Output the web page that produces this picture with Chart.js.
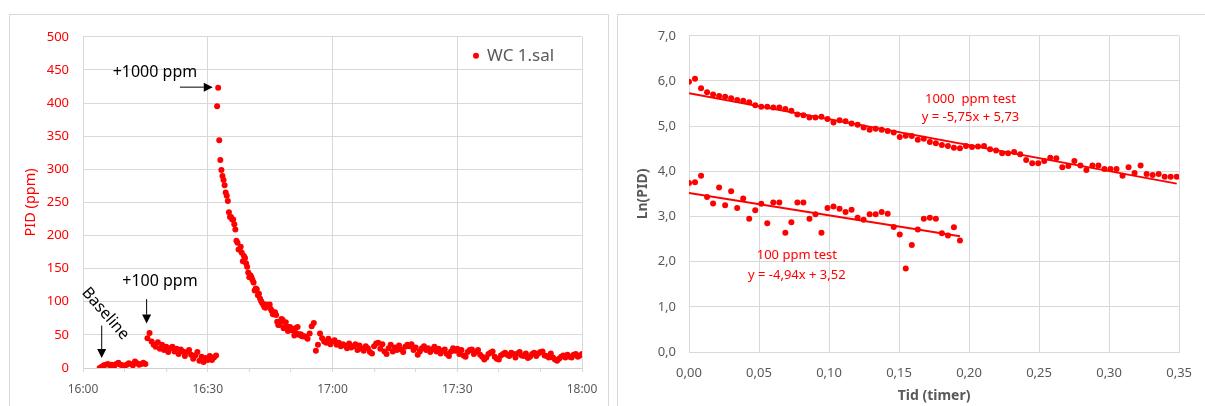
<!DOCTYPE html>
<html>
<head>
<meta charset="utf-8">
<script src="https://cdn.jsdelivr.net/npm/chart.js@4.4.1/dist/chart.umd.min.js"></script>
<style>
  html, body { margin: 0; padding: 0; background: #fff; overflow: hidden; }
  body { width: 1205px; height: 406px; position: relative; }
  .panel { position: absolute; top: 14px; height: 420px; border: 1px solid #d9d9d9; box-sizing: border-box; background: #fff; }
  #leftPanel { left: 9px; width: 600px; }
  #rightPanel { left: 617px; width: 620px; }
  canvas { position: absolute; left: 0; top: 0; }
</style>
</head>
<body>
<div class="panel" id="leftPanel"><canvas id="pidChart" width="598" height="391"></canvas></div>
<div class="panel" id="rightPanel"><canvas id="lnChart" width="587" height="391"></canvas></div>
<script>
"use strict";

// DATA -----------------------
// left chart: PID readings (ppm), x = minutes after 16:00
const segStartMin = [4, 15.5, 32.25, 53.5];
const segStepMin = [0.5, 0.5, 0.258, 0.5];

const pidBaseline = [0, 2, 4, 5, 6, 4, 5, 3, 6, 8, 5, 4, 3, 5, 7, 6, 4, 10, 7, 5, 6, 8, 6];

const pid100 = [
  45, 53, 40, 35, 32, 39, 29, 35, 27, 32,
  24, 30, 32, 25, 29, 21, 28, 25, 18, 24,
  27, 20, 14, 19, 24, 11, 17, 9, 15, 12,
  18, 12, 16, 19
];

const pid1000Decay = [
  395, 423, 344, 314, 299, 290, 284, 276, 265, 260,
  252, 235, 228, 228, 224, 224, 217, 209, 192, 189,
  179, 179, 183, 174, 161, 169, 166, 158, 153, 144,
  137, 140, 137, 133, 129, 117, 120, 119, 110, 112,
  105, 101, 98, 96, 92, 91, 96, 94, 95, 96,
  89, 86, 81, 81, 84, 80, 70, 65, 65, 69,
  74, 73, 60, 62, 69, 62, 56, 62, 62, 57,
  57, 57, 49, 60, 52, 62, 51, 50, 51, 48,
  48, 48
];

const pid1000Tail = [
  47, 44, 52, 63, 68, 26, 35, 52, 45, 40,
  38, 44, 36, 40, 42, 35, 38, 33, 36, 34,
  30, 37, 31, 33, 36, 27, 34, 29, 26, 33,
  30, 24, 22, 33, 37, 38, 29, 36, 25, 21,
  30, 35, 25, 31, 27, 34, 28, 24, 32, 35,
  33, 36, 27, 31, 20, 25, 30, 33, 27, 30,
  24, 28, 32, 25, 29, 22, 26, 28, 21, 18,
  25, 30, 26, 29, 21, 27, 19, 17, 24, 27,
  28, 21, 25, 27, 20, 17, 13, 16, 21, 23,
  25, 17, 14, 13, 19, 21, 23, 20, 18, 23,
  21, 16, 22, 24, 19, 18, 22, 15, 17, 21,
  23, 18, 22, 24, 25, 19, 18, 16, 22, 16,
  13, 11, 14, 17, 19, 16, 20, 17, 16, 20,
  21, 17, 19, 21
];

// right chart: ln(PID) against time in hours
const tidStepH = 0.0043;

const lnPid1000 = [
  5.98, 6.05, 5.84, 5.75, 5.70, 5.67, 5.65, 5.62, 5.58, 5.56,
  5.53, 5.46, 5.43, 5.43, 5.41, 5.41, 5.38, 5.34, 5.26, 5.24,
  5.19, 5.19, 5.21, 5.16, 5.08, 5.13, 5.11, 5.06, 5.03, 4.97,
  4.92, 4.94, 4.92, 4.89, 4.86, 4.76, 4.79, 4.78, 4.70, 4.72,
  4.65, 4.62, 4.58, 4.56, 4.52, 4.51, 4.56, 4.54, 4.55, 4.56,
  4.49, 4.46, 4.40, 4.40, 4.43, 4.38, 4.25, 4.18, 4.18, 4.23,
  4.30, 4.29, 4.09, 4.12, 4.23, 4.13, 4.03, 4.13, 4.13, 4.05,
  4.05, 4.05, 3.90, 4.09, 3.96, 4.13, 3.94, 3.92, 3.94, 3.88,
  3.88, 3.88
];

const lnPid100 = [
  3.74, 3.76, 3.90, 3.43, 3.29, 3.64, 3.25, 3.56, 3.19, 3.40,
  2.95, 3.14, 3.28, 2.85, 3.31, 3.31, 2.64, 2.87, 3.31, 3.31,
  2.95, 3.05, 2.64, 3.19, 3.22, 3.17, 3.10, 3.15, 2.97, 2.93,
  3.05, 3.05, 3.10, 3.06, 2.77, 2.60, 1.85, 2.37, 2.71, 2.95,
  2.97, 2.95, 2.63, 2.58, 2.76, 2.47
];

// trendlines: [slope, intercept]
const trend1000 = [-5.75, 5.73];
const trend100 = [-4.94, 3.52];

// STYLE -----------------------
const red = '#ff0000';
const grey = '#595959';
const gridGrey = '#d9d9d9';
Chart.defaults.font.family = "'Noto Sans', sans-serif";

// FUNCTIONS -----------------------
function clock(min){
  const h = 16 + Math.floor(min / 60);
  const m = min % 60;
  return h + ':' + (m < 10 ? '0' + m : m);
}

function comma(v, d){
  return v.toFixed(d).replace('.', ',');
}

function drawArrow(ctx, x1, y1, x2, y2){
  const a = Math.atan2(y2 - y1, x2 - x1);
  const len = 9, half = 4.5;
  const bx = x2 - len * Math.cos(a), by = y2 - len * Math.sin(a);
  ctx.beginPath();
  ctx.moveTo(x1, y1);
  ctx.lineTo(bx, by);
  ctx.stroke();
  ctx.beginPath();
  ctx.moveTo(x2, y2);
  ctx.lineTo(bx + half * Math.sin(a), by - half * Math.cos(a));
  ctx.lineTo(bx - half * Math.sin(a), by + half * Math.cos(a));
  ctx.closePath();
  ctx.fill();
}

function trendPoints(coef, xEnd){
  return [
    {x: 0, y: coef[1]},
    {x: xEnd, y: coef[0] * xEnd + coef[1]}
  ];
}

// build points
const pidPoints = [];
[pidBaseline, pid100, pid1000Decay, pid1000Tail].forEach(function(vals, s){
  vals.forEach(function(v, i){
    pidPoints.push({x: segStartMin[s] + i * segStepMin[s], y: v});
  });
});

const pts1000 = lnPid1000.map((v, i) => ({x: i * tidStepH, y: v}));
const pts100 = lnPid100.map((v, i) => ({x: i * tidStepH, y: v}));

// annotations (in data units)
const leftNotes = [
  {text: '+1000 ppm', x: 17.3, y: 446, angle: 0},
  {text: '+100 ppm', x: 18.5, y: 130, angle: 0},
  {text: 'Baseline', x: 5.4, y: 82, angle: 49}
];
const leftArrows = [
  [23.3, 424, 31.2, 424],
  [15.3, 104, 15.3, 67],
  [4.5, 64, 4.5, 15]
];
const rightNotes = [
  {text: '1000  ppm test', x: 0.201, y: 5.60},
  {text: 'y = -5,75x + 5,73', x: 0.201, y: 5.19},
  {text: '100 ppm test', x: 0.077, y: 2.13},
  {text: 'y = -4,94x + 3,52', x: 0.077, y: 1.69}
];

const leftExtras = {
  id: 'leftExtras',
  afterDatasetsDraw(chart){
    const ctx = chart.ctx, xs = chart.scales.x, ys = chart.scales.y, area = chart.chartArea;
    ctx.save();
    ctx.fillStyle = '#000';
    ctx.strokeStyle = '#000';
    ctx.lineWidth = 1;
    ctx.font = "16px 'Noto Sans', sans-serif";
    ctx.textAlign = 'center';
    ctx.textBaseline = 'middle';
    leftNotes.forEach(function(n){
      ctx.save();
      ctx.translate(xs.getPixelForValue(n.x), ys.getPixelForValue(n.y));
      ctx.rotate(n.angle * Math.PI / 180);
      ctx.fillText(n.text, 0, 0);
      ctx.restore();
    });
    leftArrows.forEach(function(a){
      drawArrow(ctx, xs.getPixelForValue(a[0]), ys.getPixelForValue(a[1]),
        xs.getPixelForValue(a[2]), ys.getPixelForValue(a[3]));
    });
    // legend
    const lx = area.right - 106, ly = area.top + 19;
    ctx.fillStyle = red;
    ctx.beginPath();
    ctx.arc(lx, ly, 3, 0, Math.PI * 2);
    ctx.fill();
    ctx.fillStyle = grey;
    ctx.textAlign = 'left';
    ctx.font = "17px 'Noto Sans', sans-serif";
    ctx.fillText(chart.data.datasets[0].label, lx + 11, ly);
    ctx.restore();
  }
};

const rightExtras = {
  id: 'rightExtras',
  afterDatasetsDraw(chart){
    const ctx = chart.ctx, xs = chart.scales.x, ys = chart.scales.y;
    ctx.save();
    ctx.fillStyle = red;
    ctx.font = "13px 'Noto Sans', sans-serif";
    ctx.textAlign = 'center';
    ctx.textBaseline = 'middle';
    rightNotes.forEach(function(n){
      ctx.fillText(n.text, xs.getPixelForValue(n.x), ys.getPixelForValue(n.y));
    });
    ctx.restore();
  }
};

// CHARTS -----------------------
new Chart(document.getElementById('pidChart'), {
  type: 'scatter',
  data: {
    datasets: [{
      label: 'WC 1.sal',
      data: pidPoints,
      backgroundColor: red,
      borderWidth: 0,
      pointRadius: 3
    }]
  },
  options: {
    responsive: false,
    animation: false,
    events: [],
    layout: { padding: { top: 18, right: 26, left: 0, bottom: 0 } },
    plugins: { legend: { display: false }, tooltip: { enabled: false } },
    scales: {
      x: {
        type: 'linear', min: 0, max: 120,
        afterFit: function(s){ s.height = 38; },
        ticks: {
          stepSize: 10, autoSkip: false, maxRotation: 0, padding: 10,
          color: grey, font: { size: 12 },
          callback: v => v % 30 === 0 ? clock(v) : ''
        },
        grid: {
          color: c => (c.tick && c.tick.value % 30 === 0) ? gridGrey : 'rgba(0,0,0,0)',
          tickColor: gridGrey, tickLength: 4
        },
        border: { color: '#cfcfcf' }
      },
      y: {
        min: 0, max: 500,
        afterFit: function(s){ s.width = 73; },
        ticks: { stepSize: 50, padding: 14, color: red, font: { size: 13 } },
        grid: { color: gridGrey, drawTicks: false },
        border: { color: gridGrey },
        title: { display: true, text: 'PID (ppm)', color: red, font: { size: 14.5 }, padding: { top: 12, bottom: 0 } }
      }
    }
  },
  plugins: [leftExtras]
});

new Chart(document.getElementById('lnChart'), {
  type: 'scatter',
  data: {
    datasets: [{
      label: '1000 ppm test',
      data: pts1000,
      backgroundColor: red, borderWidth: 0, pointRadius: 3
    }, {
      label: '100 ppm test',
      data: pts100,
      backgroundColor: red, borderWidth: 0, pointRadius: 3
    }, {
      label: 'Lineær (1000 ppm test)',
      data: trendPoints(trend1000, pts1000[pts1000.length - 1].x),
      showLine: true, borderColor: red, borderWidth: 2, pointRadius: 0
    }, {
      label: 'Lineær (100 ppm test)',
      data: trendPoints(trend100, pts100[pts100.length - 1].x),
      showLine: true, borderColor: red, borderWidth: 2, pointRadius: 0
    }]
  },
  options: {
    responsive: false,
    animation: false,
    events: [],
    layout: { padding: { top: 18, right: 20, left: 0, bottom: 0 } },
    plugins: { legend: { display: false }, tooltip: { enabled: false } },
    scales: {
      x: {
        min: 0, max: 0.35,
        afterFit: function(s){ s.height = 54; },
        ticks: { stepSize: 0.05, padding: 13, color: grey, font: { size: 13 }, callback: v => comma(v, 2) },
        grid: { color: gridGrey, drawTicks: false },
        border: { color: gridGrey },
        title: { display: true, text: 'Tid (timer)', color: grey, font: { size: 14, weight: 'bold' }, padding: { top: 0, bottom: 2 } }
      },
      y: {
        min: 0, max: 7,
        afterFit: function(s){ s.width = 71; },
        ticks: { stepSize: 1, padding: 13, color: grey, font: { size: 13 }, callback: v => comma(v, 1) },
        grid: { color: gridGrey, drawTicks: false },
        border: { color: gridGrey },
        title: { display: true, text: 'Ln(PID)', color: grey, font: { size: 14, weight: 'bold' }, padding: { top: 17, bottom: 0 } }
      }
    }
  },
  plugins: [rightExtras]
});
</script>
</body>
</html>
